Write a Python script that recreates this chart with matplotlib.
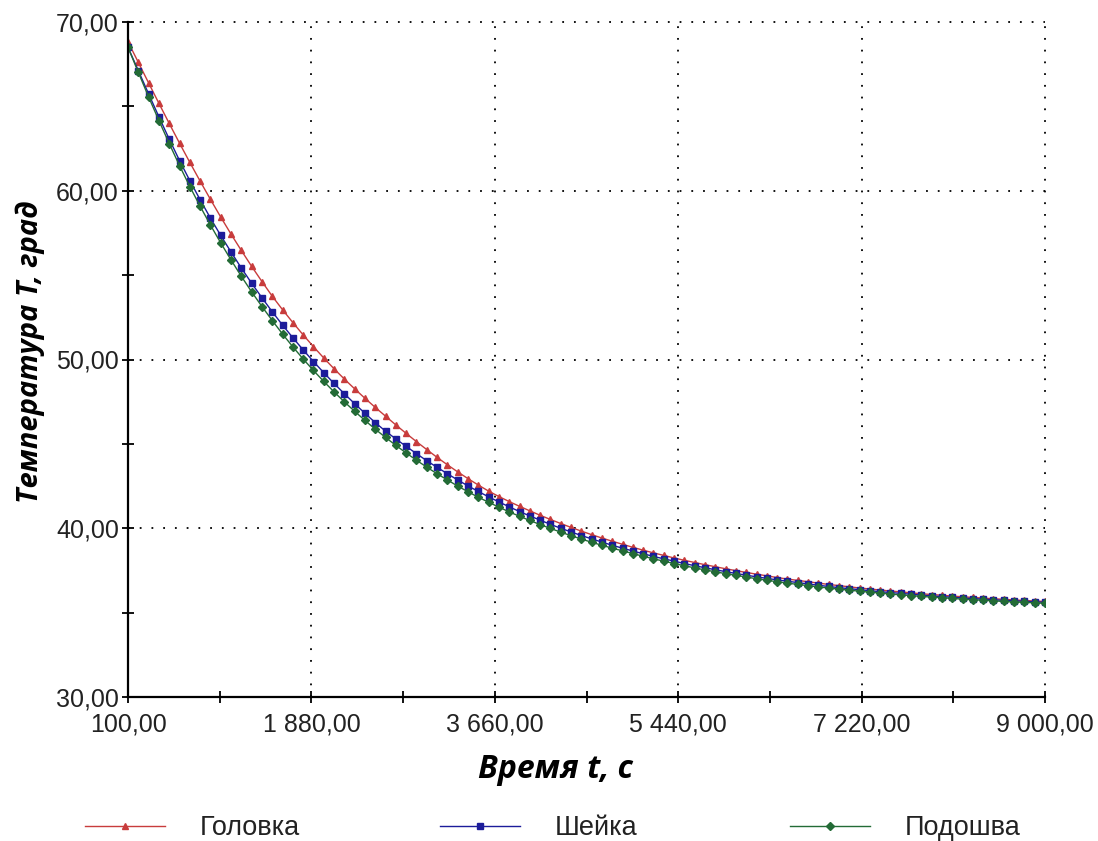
import matplotlib
matplotlib.use('Agg')
import matplotlib.pyplot as plt
from matplotlib.ticker import FuncFormatter, FixedLocator

# time points, s
time_s = list(range(100, 9001, 100))

# temperature, grad
golovka = [
    68.83, 67.61, 66.39, 65.18, 63.99, 62.82, 61.68, 60.57, 59.49, 58.44,
    57.43, 56.46, 55.52, 54.62, 53.75, 52.95, 52.19, 51.46, 50.76, 50.09,
    49.45, 48.84, 48.26, 47.70, 47.16, 46.64, 46.12, 45.62, 45.13, 44.66,
    44.20, 43.76, 43.34, 42.94, 42.56, 42.20, 41.88, 41.58, 41.30, 41.03,
    40.77, 40.52, 40.28, 40.05, 39.83, 39.62, 39.42, 39.23, 39.05, 38.87,
    38.70, 38.54, 38.39, 38.24, 38.10, 37.97, 37.84, 37.72, 37.60, 37.49,
    37.38, 37.28, 37.18, 37.08, 36.99, 36.91, 36.83, 36.75, 36.67, 36.60,
    36.53, 36.46, 36.40, 36.34, 36.28, 36.23, 36.17, 36.12, 36.07, 36.03,
    35.98, 35.94, 35.90, 35.86, 35.82, 35.79, 35.75, 35.72, 35.69, 35.66,
]
sheyka = [
    68.50, 67.12, 65.74, 64.38, 63.06, 61.79, 60.60, 59.47, 58.38, 57.35,
    56.37, 55.42, 54.52, 53.66, 52.83, 52.04, 51.29, 50.57, 49.88, 49.22,
    48.58, 47.97, 47.38, 46.81, 46.26, 45.75, 45.29, 44.85, 44.42, 44.00,
    43.61, 43.23, 42.86, 42.51, 42.18, 41.86, 41.56, 41.27, 40.99, 40.73,
    40.48, 40.23, 40.00, 39.78, 39.57, 39.37, 39.18, 38.99, 38.82, 38.65,
    38.49, 38.33, 38.19, 38.05, 37.91, 37.78, 37.66, 37.54, 37.43, 37.32,
    37.22, 37.12, 37.03, 36.94, 36.86, 36.78, 36.70, 36.62, 36.55, 36.48,
    36.42, 36.36, 36.30, 36.24, 36.19, 36.14, 36.09, 36.04, 35.99, 35.95,
    35.91, 35.87, 35.83, 35.80, 35.76, 35.73, 35.70, 35.67, 35.64, 35.61,
]
podoshva = [
    68.50, 67.02, 65.56, 64.16, 62.80, 61.49, 60.25, 59.08, 57.97, 56.91,
    55.90, 54.93, 54.01, 53.14, 52.31, 51.51, 50.75, 50.03, 49.35, 48.70,
    48.08, 47.49, 46.93, 46.39, 45.87, 45.38, 44.91, 44.46, 44.03, 43.62,
    43.23, 42.86, 42.50, 42.16, 41.84, 41.54, 41.25, 40.97, 40.71, 40.46,
    40.22, 39.99, 39.77, 39.56, 39.36, 39.17, 38.99, 38.82, 38.66, 38.50,
    38.34, 38.19, 38.05, 37.91, 37.78, 37.65, 37.53, 37.42, 37.31, 37.21,
    37.11, 37.01, 36.92, 36.83, 36.75, 36.67, 36.60, 36.52, 36.46, 36.39,
    36.33, 36.27, 36.21, 36.16, 36.10, 36.05, 36.01, 35.96, 35.92, 35.88,
    35.84, 35.80, 35.76, 35.73, 35.70, 35.66, 35.63, 35.61, 35.58, 35.55,
]

series_names = ['Головка', 'Шейка', 'Подошва']
x_ticks = [100, 1880, 3660, 5440, 7220, 9000]
x_minor = [990, 2770, 4550, 6330, 8110]
y_ticks = [30, 40, 50, 60, 70]
y_minor = [35, 45, 55, 65]


def ru_fmt(v, pos=None):
    return '{:,.2f}'.format(v).replace(',', ' ').replace('.', ',')


fig = plt.figure(figsize=(10.98, 8.41), dpi=100)
ax = fig.add_axes([128 / 1098, 1 - 697 / 841, (1045 - 128) / 1098, (697 - 22) / 841])

styles = [('#c83c3c', '^', 4.4), ('#1c1c9a', 's', 3.8), ('#236b36', 'D', 3.6)]
handles = []
for vals, name, (col, mk, ms) in zip([golovka, sheyka, podoshva], series_names, styles):
    h, = ax.plot(time_s, vals, color=col, lw=1.0, marker=mk, ms=ms,
                 mec=col, mfc=col, label=name)
    handles.append(h)

ax.set_xlim(100, 9000)
ax.set_ylim(30, 70)
ax.set_xticks(x_ticks)
ax.set_yticks(y_ticks)
ax.xaxis.set_minor_locator(FixedLocator(x_minor))
ax.yaxis.set_minor_locator(FixedLocator(y_minor))
ax.xaxis.set_major_formatter(FuncFormatter(ru_fmt))
ax.yaxis.set_major_formatter(FuncFormatter(ru_fmt))

for s in ['top', 'right']:
    ax.spines[s].set_visible(False)
for s in ['left', 'bottom']:
    ax.spines[s].set_linewidth(1.6)
    ax.spines[s].set_color('black')

ax.tick_params(which='both', direction='inout', length=9, width=1.3, color='black')
ax.tick_params(axis='y', labelsize=18, pad=2)
ax.tick_params(axis='x', labelsize=18, pad=7)
for lab in ax.get_xticklabels() + ax.get_yticklabels():
    lab.set_fontfamily(['Liberation Sans', 'DejaVu Sans'])
    lab.set_color('#222222')

ax.grid(True, which='major', color='black', linestyle=(0, (1, 5.5)), linewidth=1.3)
for gl in ax.get_xgridlines() + ax.get_ygridlines():
    gl.set_clip_on(False)

lab_font = dict(family=['Open Sans', 'DejaVu Sans'], weight='bold', style='italic')
fig.text(556 / 1098, 1 - 770 / 841, 'Время t, с', ha='center', va='center', size=23, **lab_font)
fig.text(30 / 1098, 1 - 352 / 841, 'Температура T, град', ha='center', va='center',
         rotation=90, size=21, **lab_font)

# legend entries placed one by one under the plot
leg_x = [85, 440, 790]
for h, x0 in zip(handles, leg_x):
    leg = fig.legend(handles=[h], loc='center left', frameon=False, borderpad=0,
                     borderaxespad=0, bbox_to_anchor=(x0 / 1098, 1 - 828 / 841),
                     handlelength=2.95, handletextpad=1.3, numpoints=1,
                     prop={'family': ['Liberation Sans', 'DejaVu Sans'], 'size': 19.5})
    for t in leg.get_texts():
        t.set_color('#222222')

fig.savefig('out.png', dpi=100)
